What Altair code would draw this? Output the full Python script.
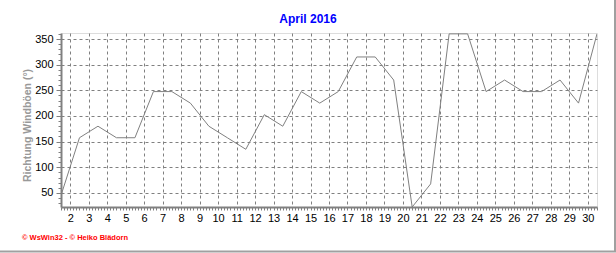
import altair as alt
import pandas as pd

# Day of month and daily gust direction (degrees)
days = list(range(1, 31))
direction = [45, 157.5, 180, 157.5, 157.5, 247.5, 247.5, 225, 180, 157.5,
             135, 202.5, 180, 247.5, 225, 247.5, 315, 315, 270, 22.5,
             67.5, 360, 360, 247.5, 270, 247.5, 247.5, 270, 225, 360]
x_ticks = list(range(2, 31))
y_ticks = [50, 100, 150, 200, 250, 300, 350]
minor_x = [1.5 + i / 6 for i in range(0, 29 * 6 + 1)]
minor_y = list(range(30, 361, 10))
title_text = "April 2016"
y_title = "Richtung Windböen (°)"
footer = "© WsWin32  -  © Heiko Blädorn"

df = pd.DataFrame({"pos": [d + 0.5 for d in days], "dir": direction})

FONT = "Liberation Sans"
GRAY = "#808080"

xscale = alt.Scale(domain=[1.5, 30.5], nice=False, zero=False)
yscale = alt.Scale(domain=[22.5, 361.7], nice=False, zero=False)

line = alt.Chart(df).mark_line(color=GRAY, strokeWidth=1, clip=True).encode(
    x=alt.X("pos:Q", scale=xscale,
            axis=alt.Axis(values=x_ticks, format="d", title=None, grid=True,
                          gridDash=[3, 3], gridColor=GRAY, gridWidth=1,
                          tickSize=0, labelPadding=5, domainColor=GRAY,
                          domainWidth=2, labelFontSize=11, labelFont=FONT,
                          labelColor="black", orient="bottom")),
    y=alt.Y("dir:Q", scale=yscale,
            axis=alt.Axis(values=y_ticks, title=y_title, grid=True,
                          gridDash=[3, 3], gridColor=GRAY, gridWidth=1,
                          tickSize=5, tickColor=GRAY, labelPadding=3,
                          domainColor=GRAY, domainWidth=2, labelFontSize=11,
                          labelFont=FONT, labelColor="black", orient="left",
                          titleX=-34, titleY=92, titleAngle=270,
                          titleAlign="center", titleBaseline="middle",
                          titleColor="#999999", titleFontSize=10.5,
                          titleFontWeight="bold", titleFont=FONT)),
)

minor = alt.Chart(df).mark_line(opacity=0).encode(
    x=alt.X("pos:Q", scale=xscale,
            axis=alt.Axis(values=minor_x, labels=False, grid=False, domain=False,
                          tickSize=3, tickColor=GRAY, orient="bottom", title=None)),
    y=alt.Y("dir:Q", scale=yscale,
            axis=alt.Axis(values=minor_y, labels=False, grid=False, domain=False,
                          tickSize=3, tickColor=GRAY, orient="left", title=None)),
)

ttl = alt.Chart(pd.DataFrame({"t": [title_text]})).mark_text(
    align="center", baseline="middle", color="#0000ff", fontSize=12,
    fontWeight="bold", font=FONT
).encode(text="t:N", x=alt.value(247), y=alt.value(-14))

foot = alt.Chart(pd.DataFrame({"t": [footer]})).mark_text(
    align="left", baseline="middle", color="#ff0000", fontSize=7.5,
    fontWeight="bold", font=FONT
).encode(text="t:N", x=alt.value(-39), y=alt.value(205))

border_r = alt.Chart(pd.DataFrame({"a": [0]})).mark_rule(
    color="#a0a0a0", strokeWidth=2
).encode(x=alt.value(554), y=alt.value(-33), y2=alt.value(219))

border_b = alt.Chart(pd.DataFrame({"a": [0]})).mark_rule(
    color="#a0a0a0", strokeWidth=2
).encode(x=alt.value(-61), x2=alt.value(555), y=alt.value(218.5))

chart = alt.layer(line, minor, ttl, foot, border_r, border_b).resolve_axis(
    x="independent", y="independent"
).properties(
    width=536, height=174,
    autosize=alt.AutoSizeParams(type="none"),
    padding={"left": 61, "top": 33, "right": 19, "bottom": 46},
).configure_view(stroke="black", strokeWidth=1).configure(background="white")

chart.save("out.html", embed_options={"renderer": "svg", "actions": False})
